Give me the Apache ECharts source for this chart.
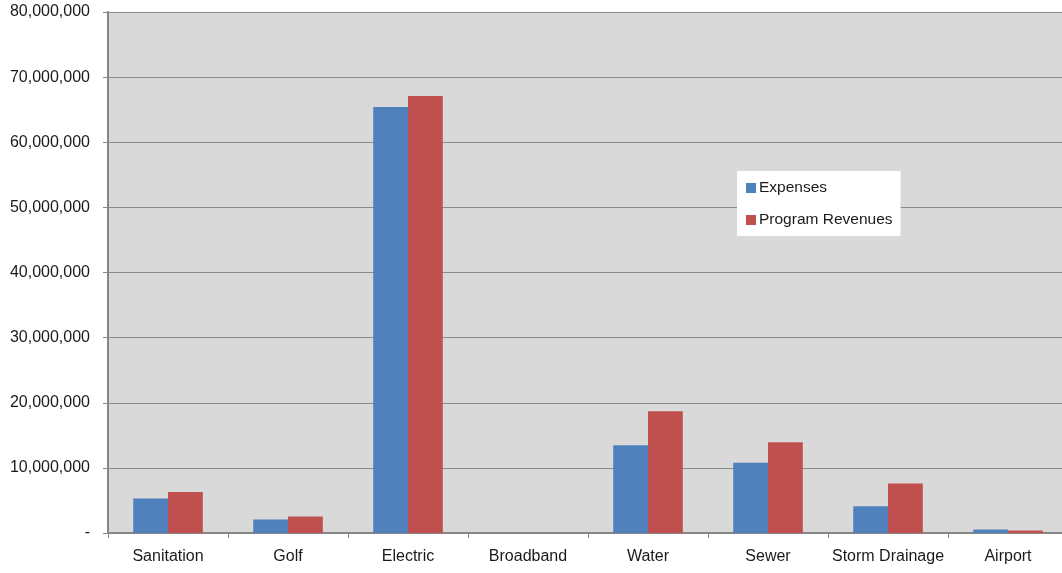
<!DOCTYPE html>
<html><head><meta charset="utf-8">
<script src="https://cdn.jsdelivr.net/npm/echarts@6/dist/echarts.min.js"></script>
<style>html,body{margin:0;padding:0;background:#fff;overflow:hidden;width:1062px;height:573px}#c{width:1068px;height:573px}</style>
</head><body><div id="c"></div>
<script>
const categories = ['Sanitation','Golf','Electric','Broadband','Water','Sewer','Storm Drainage','Airport'];
const expenses = [5280000, 2080000, 65400000, 0, 13460000, 10770000, 4090000, 540000];
const programRevenues = [6300000, 2550000, 67100000, 0, 18700000, 13920000, 7590000, 390000];
const seriesNames = ['Expenses','Program Revenues'];
const FONT = 'Liberation Sans';
const chart = echarts.init(document.getElementById('c'));
chart.setOption({
  animation:false,
  backgroundColor:'#ffffff',
  grid:{left:108,top:12,right:0,bottom:40,show:true,backgroundColor:'#d9d9d9',borderWidth:0},
  legend:{
    orient:'vertical',left:737,top:171,
    backgroundColor:'#ffffff',padding:[9,8,8,9],
    itemWidth:10,itemHeight:10,itemGap:16,icon:'rect',
    textStyle:{fontFamily:FONT,fontSize:15.5,color:'#1a1a1a',padding:[0,0,0,-2]},
    data:seriesNames
  },
  xAxis:{
    type:'category',data:categories,
    axisLine:{lineStyle:{color:'#868686',width:2}},
    axisTick:{show:true,interval:0,length:5,lineStyle:{color:'#868686',width:1}},
    axisLabel:{interval:0,fontFamily:FONT,fontSize:16,color:'#1a1a1a',margin:16}
  },
  yAxis:{
    type:'value',min:0,max:80000000,interval:10000000,
    axisLine:{show:true,lineStyle:{color:'#868686',width:2}},
    axisTick:{show:true,length:5,lineStyle:{color:'#868686',width:1}},
    splitLine:{lineStyle:{color:'#8c8c8c',width:1}},
    axisLabel:{fontFamily:FONT,fontSize:16,color:'#1a1a1a',margin:18,
      formatter:v=> v===0 ? '-' : v.toLocaleString('en-US')}
  },
  series:[
    {name:seriesNames[0],type:'bar',data:expenses,itemStyle:{color:'#4f81bd'},barGap:'0%',barCategoryGap:'42%'},
    {name:seriesNames[1],type:'bar',data:programRevenues,itemStyle:{color:'#c0504d'},barGap:'0%',barCategoryGap:'42%'}
  ]
});
</script></body></html>
